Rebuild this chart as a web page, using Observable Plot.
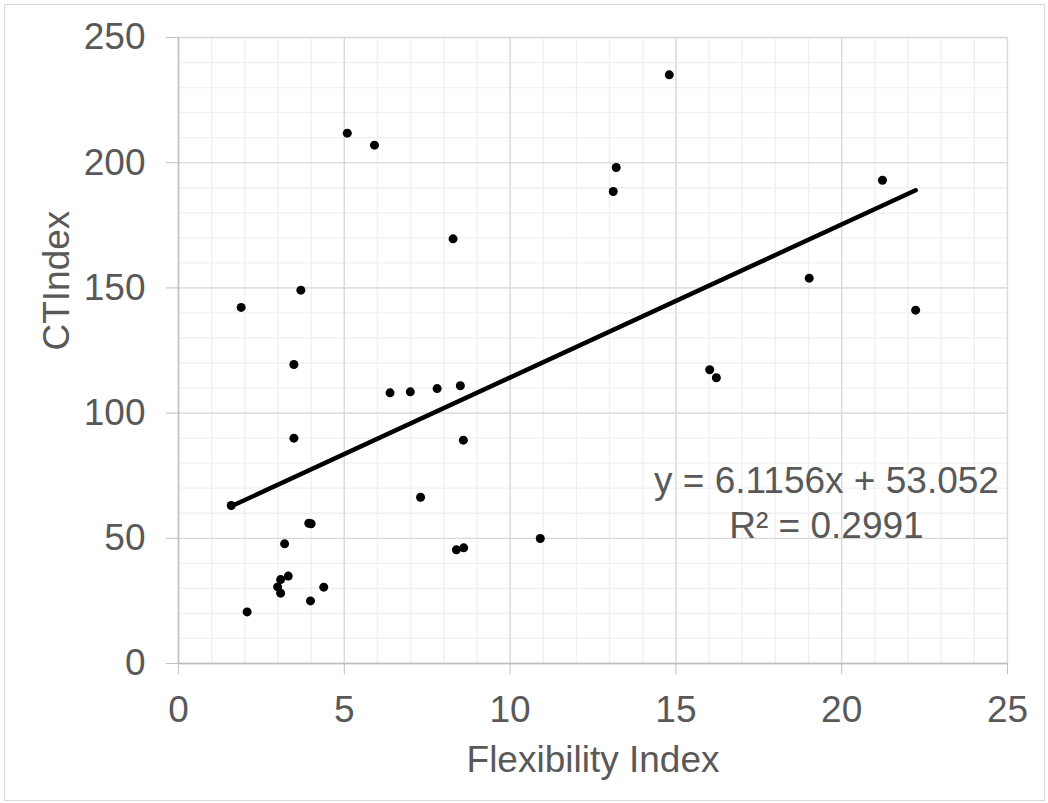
<!DOCTYPE html>
<html>
<head>
<meta charset="utf-8">
<script src="https://cdn.jsdelivr.net/npm/d3@7"></script>
<script src="https://cdn.jsdelivr.net/npm/@observablehq/plot@0.6"></script>
<style>
  html, body { margin: 0; padding: 0; background: #fff; }
  #wrap { position: relative; width: 1048px; height: 803px; }
  #border { position: absolute; left: 4px; top: 4px; width: 1039px; height: 795px; border: 1px solid #d9d9d9; pointer-events: none; }
</style>
</head>
<body>
<div id="wrap"><div id="chart"></div><div id="border"></div></div>
<script>
// Data
const flexibilityIndex = [1.59, 1.89, 2.07, 2.99, 3.08, 3.08, 3.20, 3.31, 3.48, 3.48, 3.69, 3.93, 4.00, 3.98, 4.38, 5.09, 5.91, 6.38, 6.99, 7.30, 7.80, 8.28, 8.38, 8.50, 8.59, 8.60, 10.91, 13.11, 13.20, 14.80, 16.02, 16.22, 19.02, 21.23, 22.23];
const ctIndex = [63.1, 142.2, 20.6, 30.6, 28.1, 33.5, 47.8, 34.9, 119.4, 90.0, 149.1, 56.0, 55.8, 25.0, 30.5, 211.8, 207.0, 108.1, 108.5, 66.4, 109.8, 169.6, 45.4, 110.9, 89.2, 46.2, 49.9, 188.5, 198.1, 235.1, 117.3, 114.1, 153.9, 193.0, 141.1];

const trendSlope = 6.1156;
const trendIntercept = 53.052;
const equationText = "y = 6.1156x + 53.052\nR² = 0.2991";

const xTicks = [0, 5, 10, 15, 20, 25];
const yTicks = [0, 50, 100, 150, 200, 250];
const xMinorTicks = d3.range(0, 26, 1);
const yMinorTicks = d3.range(0, 251, 10);

const xLabel = "Flexibility Index";
const yLabel = "CTIndex";

const points = flexibilityIndex.map((x, i) => ({x, y: ctIndex[i]}));
const [xmin, xmax] = d3.extent(flexibilityIndex);
const trend = [xmin, xmax].map(x => ({x, y: trendSlope * x + trendIntercept}));

const textColor = "#595959";
const fs = 37;

const chart = Plot.plot({
  width: 1048,
  height: 803,
  marginLeft: 178,
  marginRight: 41,
  marginTop: 37,
  marginBottom: 140,
  style: {fontFamily: "'Liberation Sans', Arial, sans-serif", fontSize: fs + "px", color: textColor, background: "#fff"},
  x: {domain: [0, 25]},
  y: {domain: [0, 250]},
  marks: [
    Plot.gridX(xMinorTicks, {stroke: "#f0f0f0", strokeOpacity: 1, strokeWidth: 1.3}),
    Plot.gridY(yMinorTicks, {stroke: "#f0f0f0", strokeOpacity: 1, strokeWidth: 1.3}),
    Plot.gridX(xTicks, {stroke: "#d9d9d9", strokeOpacity: 1, strokeWidth: 1.3}),
    Plot.gridY(yTicks, {stroke: "#d9d9d9", strokeOpacity: 1, strokeWidth: 1.3}),
    Plot.ruleY([0], {stroke: "#bfbfbf", strokeWidth: 1.5}),
    Plot.ruleX([0], {stroke: "#bfbfbf", strokeWidth: 1.5}),
    Plot.axisX(xTicks, {tickSize: 11, tickPadding: 21, stroke: "#bfbfbf", fill: textColor, fontSize: fs, label: null}),
    Plot.axisY(yTicks, {tickSize: 12, tickPadding: 21, stroke: "#bfbfbf", fill: textColor, fontSize: fs, label: null}),
    Plot.text([xLabel], {frameAnchor: "bottom", dy: 82, lineAnchor: "top", fill: textColor, fontSize: fs}),
    Plot.text([yLabel], {frameAnchor: "left", rotate: -90, dx: -110, lineAnchor: "bottom", fill: textColor, fontSize: fs}),
    Plot.line(trend, {x: "x", y: "y", stroke: "#000", strokeWidth: 4.5, strokeLinecap: "round"}),
    Plot.dot(points, {x: "x", y: "y", r: 4.5, fill: "#000", stroke: null}),
    Plot.text([equationText], {x: () => 19.54, y: () => 80.7, lineAnchor: "top", lineHeight: 1.216, fill: textColor, fontSize: fs, textAnchor: "middle"})
  ]
});
document.getElementById("chart").appendChild(chart);
</script>
</body>
</html>
